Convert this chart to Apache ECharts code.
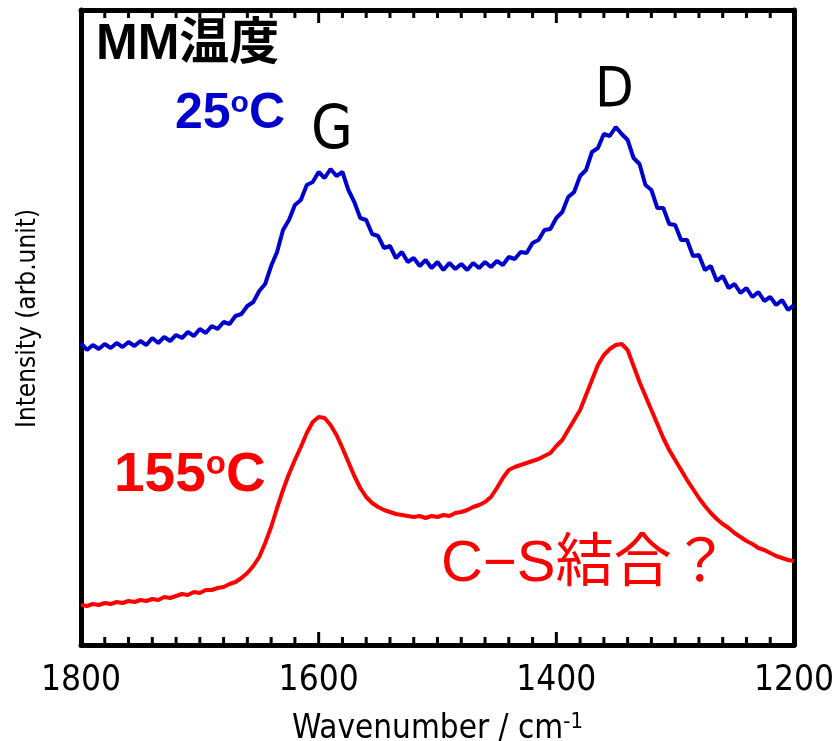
<!DOCTYPE html>
<html>
<head>
<meta charset="utf-8">
<script src="https://cdn.jsdelivr.net/npm/echarts@6/dist/echarts.min.js"></script>
<style>
html,body{margin:0;padding:0;background:#fff;}
#chart{width:833px;height:741px;}
</style>
</head>
<body>
<div id="chart"></div>
<script>
// Wavenumber (cm-1)
const wavenumbers = [
1800,1795,1790,1785,1780,1775,1770,1765,1760,1755,
1750,1745,1740,1735,1730,1725,1720,1715,1710,1705,
1700,1695,1690,1685,1680,1675,1670,1665,1660,1655,
1650,1645,1640,1635,1630,1625,1620,1615,1610,1605,
1600,1595,1590,1585,1580,1575,1570,1565,1560,1555,
1550,1545,1540,1535,1530,1525,1520,1515,1510,1505,
1500,1495,1490,1485,1480,1475,1470,1465,1460,1455,
1450,1445,1440,1435,1430,1425,1420,1415,1410,1405,
1400,1395,1390,1385,1380,1375,1370,1365,1360,1355,
1350,1345,1340,1335,1330,1325,1320,1315,1310,1305,
1300,1295,1290,1285,1280,1275,1270,1265,1260,1255,
1250,1245,1240,1235,1230,1225,1220,1215,1210,1205,
1200];
// 25 oC spectrum (arb. units, offset)
const intensity25C = [
299,292,297,293,298,294,299,295,300,296,
301,297,304,299,305,301,307,304,310,306,
313,309,316,313,320,318,326,328,336,340,
351,358,376,390,412,422,437,442,457,460,
470,464,473,466,470,452,440,424,422,408,
406,394,396,384,390,380,384,376,382,374,
380,372,379,373,378,372,379,374,380,375,
381,377,385,383,390,389,399,402,412,413,
424,430,445,450,466,472,490,494,508,506,
515,508,502,484,478,457,452,434,434,418,
417,402,402,386,387,372,376,361,366,354,
358,349,354,345,350,341,345,337,342,332,
337];
// 155 oC spectrum (arb. units)
const intensity155C = [
37,36,38,37,39,38,40,39,41,40,
42,41,43,42,45,44,46,48,47,50,
49,52,52,54,55,58,60,64,69,76,
85,99,115,134,152,168,182,195,209,220,
225,224,217,207,194,180,166,154,145,139,
135,132,130,128,127,126,125,126,124,126,
125,127,126,129,130,132,135,137,140,145,
154,164,172,175,177,179,181,183,186,189,
196,202,212,222,232,247,262,277,287,293,
297,298,292,276,260,246,232,218,204,192,
182,172,162,153,144,136,129,123,118,114,
109,105,101,98,94,92,89,86,84,82,
81];
// Axis ticks
const xTicks = [1800, 1600, 1400, 1200];
const xMinorTicks = [
1780,1760,1740,1720,1700,1680,1660,1640,1620,
1580,1560,1540,1520,1500,1480,1460,1440,1420,
1380,1360,1340,1320,1300,1280,1260,1240,1220];

const narrow = '"Liberation Sans Narrow","Arial Narrow","DejaVu Sans Condensed",sans-serif';
const sans = '"Liberation Sans",Arial,"Noto Sans CJK JP",sans-serif';
const Y_MIN = -3, Y_MAX = 632;

const chart = echarts.init(document.getElementById('chart'), null, {renderer: 'canvas'});

function pairs(vals) { return wavenumbers.map((w, i) => [w, vals[i]]); }

function frameLine() { return {show: true, onZero: false, lineStyle: {color: '#000', width: 5}}; }

// tick marks: [wavenumber, length in px]
const tickData = xTicks.map(v => [v, 13]).concat(xMinorTicks.map(v => [v, 8]));

chart.setOption({
  animation: false,
  backgroundColor: '#fff',
  grid: {left: 81, right: 39, top: 10, bottom: 96, containLabel: false, outerBoundsMode: 'none'},
  xAxis: [{
    type: 'value', position: 'bottom', inverse: true,
    min: 1200, max: 1800, interval: 200,
    axisLine: frameLine(),
    axisTick: {show: false},
    splitLine: {show: false},
    axisLabel: {show: true, margin: 18, fontSize: 35, fontFamily: narrow, color: '#000',
      formatter: v => xTicks.includes(v) ? String(v) : ''},
    name: '{a|Wavenumber / cm}{b|-1}',
    nameLocation: 'middle', nameGap: 66,
    nameTextStyle: {rich: {
      a: {fontSize: 33, fontFamily: narrow, color: '#000'},
      b: {fontSize: 22, fontFamily: narrow, color: '#000', verticalAlign: 'top', padding: [0,0,14,0]}
    }}
  }, {
    type: 'value', position: 'top', inverse: true,
    min: 1200, max: 1800, interval: 200,
    axisLine: frameLine(),
    axisTick: {show: false},
    splitLine: {show: false},
    axisLabel: {show: false}
  }],
  yAxis: [{
    type: 'value', position: 'left', min: Y_MIN, max: Y_MAX,
    axisLine: frameLine(), axisTick: {show: false}, axisLabel: {show: false}, splitLine: {show: false},
    name: 'Intensity (arb.unit)', nameLocation: 'middle', nameGap: 40, nameRotate: 90,
    nameTextStyle: {fontSize: 26, fontFamily: narrow, color: '#000', padding: [0, 0, 0, 18]}
  }, {
    type: 'value', position: 'right', min: Y_MIN, max: Y_MAX,
    axisLine: frameLine(), axisTick: {show: false}, axisLabel: {show: false}, splitLine: {show: false}
  }],
  series: [{
    name: '25°C', type: 'line', xAxisIndex: 0, yAxisIndex: 0,
    data: pairs(intensity25C), showSymbol: false,
    lineStyle: {color: '#0000cc', width: 4}, z: 3
  }, {
    name: '155°C', type: 'line', xAxisIndex: 0, yAxisIndex: 0,
    data: pairs(intensity155C), showSymbol: false,
    lineStyle: {color: '#ff0000', width: 4}, z: 3
  }, {
    name: 'ticks', type: 'custom', xAxisIndex: 0, yAxisIndex: 0,
    silent: true, clip: false, z: 20,
    encode: {x: 0},
    data: tickData,
    renderItem: function (params, api) {
      const v = api.value(0), len = api.value(1);
      const pb = api.coord([v, Y_MIN]);
      const pt = api.coord([v, Y_MAX]);
      return {type: 'group', children: [
        {type: 'rect', shape: {x: pb[0] - 1.5, y: pb[1] - len, width: 3, height: len}, style: {fill: '#000'}},
        {type: 'rect', shape: {x: pt[0] - 1.5, y: pt[1], width: 3, height: len}, style: {fill: '#000'}}
      ]};
    }
  }],
  graphic: [
    {type: 'text', left: 96, top: 20, style: {text: 'MM温度', font: 'bold 50px ' + sans, fill: '#000'}},
    {type: 'text', left: 175, top: 89, style: {
      text: '{n|25}{s|o}{n|C}', fill: '#0000cc',
      rich: {
        n: {fontSize: 50, fontWeight: 'bold', fontFamily: sans, fill: '#0000cc'},
        s: {fontSize: 30, fontWeight: 'bold', fontFamily: sans, fill: '#0000cc', verticalAlign: 'top'}
      }}},
    {type: 'text', left: 311, top: 102, style: {text: 'G', font: '60px ' + narrow, fill: '#000'}},
    {type: 'text', left: 595, top: 63, style: {text: 'D', font: '56px ' + narrow, fill: '#000'}},
    {type: 'text', left: 114, top: 448, style: {
      text: '{n|155}{s|o}{n|C}', fill: '#ff0000',
      rich: {
        n: {fontSize: 55, fontWeight: 'bold', fontFamily: sans, fill: '#ff0000'},
        s: {fontSize: 33, fontWeight: 'bold', fontFamily: sans, fill: '#ff0000', verticalAlign: 'top'}
      }}},
    {type: 'text', left: 441, top: 536, style: {text: 'C−S結合？', font: '58px ' + sans, fill: '#ff0000'}}
  ]
});
</script>
</body>
</html>
